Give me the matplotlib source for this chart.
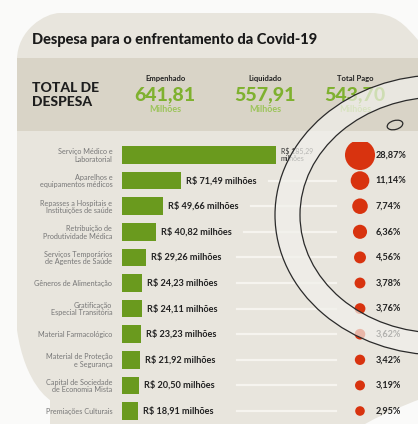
import numpy as np
import matplotlib.pyplot as plt
from matplotlib.patches import Rectangle, Ellipse, PathPatch
from matplotlib.path import Path

plt.rcParams['font.family'] = ['Lato', 'DejaVu Sans']

categorias = [
    'Serviço Médico e\nLaboratorial',
    'Aparelhos e\nequipamentos médicos',
    'Repasses a Hospitais e\nInstituições de saúde',
    'Retribuição de\nProdutividade Médica',
    'Serviços Temporários\nde Agentes de Saúde',
    'Gêneros de Alimentação',
    'Gratificação\nEspecial Transitória',
    'Material Farmacológico',
    'Material de Proteção\ne Segurança',
    'Capital de Sociedade\nde Economia Mista',
    'Premiações Culturais',
]
valores = [185.29, 71.49, 49.66, 40.82, 29.26, 24.23, 24.11, 23.23, 21.92, 20.50, 18.91]
percentuais = [28.87, 11.14, 7.74, 6.36, 4.56, 3.78, 3.76, 3.62, 3.42, 3.19, 2.95]

totais_nomes = ['Empenhado', 'Liquidado', 'Total Pago']
totais_valores = [641.81, 557.91, 543.70]

W, H = 418, 424
verde = '#6a9a1e'
verde_claro = '#7fb12f'
vermelho = '#d8330f'
fundo_card = '#e8e5dd'
fundo_topo = '#d9d4c7'


def br(x):
    return f'{x:.2f}'.replace('.', ',')


fig = plt.figure(figsize=(W / 100, H / 100), dpi=100)
fig.patch.set_facecolor('#fafaf9')

# fundo: folha de papel e faixa do cabeçalho, em coordenadas de pixel
bg = fig.add_axes([0, 0, 1, 1])
bg.set_xlim(0, W)
bg.set_ylim(H, 0)
bg.axis('off')

verts = [(17, 330), (17, 60), (17, 30), (45, 13), (60, 13),
         (370, 13), (395, 13), (405, 25), (418, 40),
         (418, 400), (418, 400), (390, 410), (365, 424),
         (50, 424), (50, 400), (50, 400), (25, 385), (17, 330)]
codes = [Path.MOVETO, Path.LINETO, Path.CURVE4, Path.CURVE4, Path.CURVE4,
         Path.LINETO, Path.CURVE4, Path.CURVE4, Path.CURVE4,
         Path.LINETO, Path.CURVE4, Path.CURVE4, Path.CURVE4,
         Path.LINETO, Path.LINETO, Path.CURVE4, Path.CURVE4, Path.CURVE4]
card = PathPatch(Path(verts, codes), facecolor=fundo_card, edgecolor='none')
bg.add_patch(card)
faixa = Rectangle((17, 58), W - 17, 73, facecolor=fundo_topo, edgecolor='none')
faixa.set_clip_path(card)
bg.add_patch(faixa)

bg.text(32, 44, 'Despesa para o enfrentamento da Covid-19', fontsize=10.5,
        fontweight='black', color='#1a1a1a', va='baseline')
bg.text(32, 95, 'TOTAL DE\nDESPESA', fontsize=10, fontweight='black',
        color='#1e1e1e', va='center', linespacing=1.2)

for xc, nome, v in zip([165, 265, 355], totais_nomes, totais_valores):
    bg.text(xc, 79, nome, fontsize=5.5, fontweight='bold', color='#222222',
            ha='center', va='center')
    bg.text(xc, 95, br(v), fontsize=14, fontweight='black', color=verde_claro,
            ha='center', va='center')
    bg.text(xc, 110, 'Milhões', fontsize=6.5, fontweight='bold', color='#9cc45a',
            ha='center', va='center')

# barras horizontais e bolhas de participação
ax = fig.add_axes([122 / W, 0.2 / H, (410 - 122) / W, (423.8 - 142.2) / H])
ax.patch.set_alpha(0)
escala = 0.831
ax.set_xlim(0, (410 - 122) / escala)
ax.set_ylim(len(valores) - 0.5, -0.5)
for s in ax.spines.values():
    s.set_visible(False)
ax.set_xticks([])
ax.set_yticks(range(len(categorias)), categorias, fontsize=5.2, color='#777777')
ax.tick_params(axis='y', length=0, pad=7)
for t in ax.get_yticklabels():
    t.set_linespacing(1.05)

y = list(range(len(valores)))
ax.barh(y, valores, height=0.68, color=verde)

x_bolha = (360 - 122) / escala
x_linha_fim = (336 - 122) / escala
for i, v in enumerate(valores):
    if i == 0:
        ax.text(v + 6, i, 'R$ ' + br(v) + '\nmilhões', fontsize=5, color='#333333',
                va='center', linespacing=1.0)
        continue
    ax.text(v + 6, i, 'R$ ' + br(v) + ' milhões', fontsize=6.6, fontweight='bold',
            color='#222222', va='center')
    inicio = max(v + 6 + 100, (237 - 122) / escala)
    ax.plot([inicio, x_linha_fim], [i, i], color='#f6f4ef', lw=1.6, zorder=1)

ax.scatter([x_bolha] * len(percentuais), y, s=[16.2 * p for p in percentuais],
           color=vermelho, edgecolors='none', zorder=3)
for i, p in enumerate(percentuais):
    ax.text(x_bolha + 19, i, br(p) + '%', fontsize=6.6, fontweight='bold',
            color='#222222', va='center')

# lente da lupa por cima: só o aro, o miolo fica transparente
lens = fig.add_axes([0, 0, 1, 1])
lens.set_xlim(0, W)
lens.set_ylim(H, 0)
lens.axis('off')
lens.patch.set_alpha(0)
cx, cy = 440, 215
t = np.linspace(0, 2 * np.pi, 200)
externo = np.column_stack([cx + 165 * np.cos(t), cy + 140 * np.sin(t)])
interno = np.column_stack([cx + 140 * np.cos(t[::-1]), cy + 118 * np.sin(t[::-1])])
anel = Path(np.vstack([externo, interno]),
            [Path.MOVETO] + [Path.LINETO] * 199 + [Path.MOVETO] + [Path.LINETO] * 199)
lens.add_patch(PathPatch(anel, facecolor='#f1f0ec', edgecolor='none', alpha=0.7))
lens.add_patch(Ellipse((cx, cy), 330, 280, facecolor='none', edgecolor='#2a2a2a', lw=0.9))
lens.add_patch(Ellipse((cx, cy), 280, 236, facecolor='none', edgecolor='#2a2a2a', lw=0.9))
lens.add_patch(Ellipse((395, 125), 16, 9, angle=-15, facecolor='none',
                       edgecolor='#2a2a2a', lw=0.9))

fig.savefig('out.png', dpi=100)
